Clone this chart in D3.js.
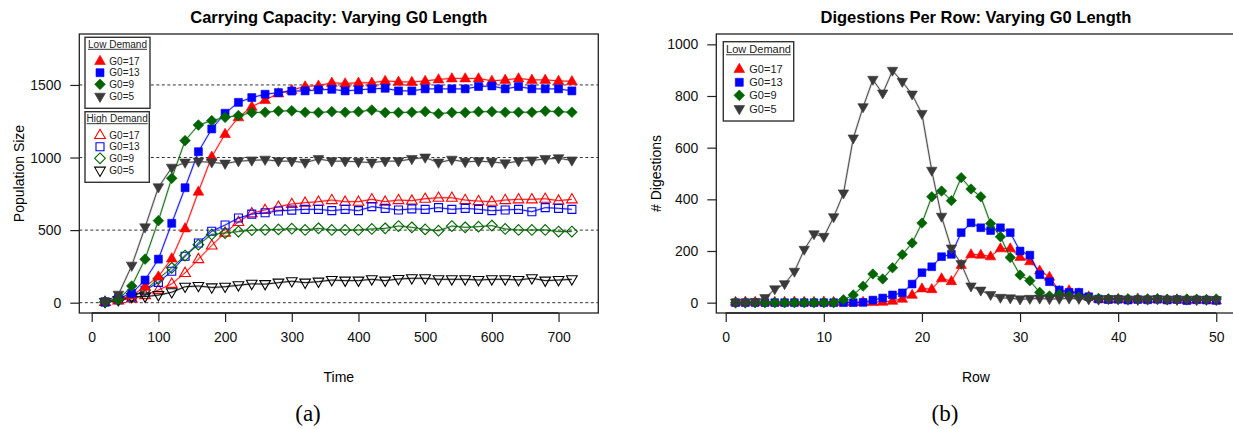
<!DOCTYPE html>
<html>
<head>
<meta charset="utf-8">
<script src="https://cdnjs.cloudflare.com/ajax/libs/d3/7.8.5/d3.min.js"></script>
<style>
  body { margin: 0; background: #fff; }
  svg { display: block; font-family: "Liberation Sans", Arial, sans-serif; }
</style>
</head>
<body>
<svg width="1233" height="429"></svg>
<script>
const width = 1233, height = 429;

// ---- data: carrying capacity (panel a) ----
const timeVals = [20, 40, 60, 80, 100, 120, 140, 160, 180, 200, 220, 240, 260, 280, 300,
    320, 340, 360, 380, 400, 420, 440, 460, 480, 500, 520, 540, 560, 580, 600,
    620, 640, 660, 680, 700, 720];

const lowG17 = [5, 20, 50, 110, 180, 305, 512, 765, 1005, 1162, 1277, 1350, 1396, 1442, 1465,
    1490, 1495, 1515, 1510, 1515, 1515, 1528, 1522, 1520, 1528, 1538, 1545, 1545, 1545, 1528,
    1535, 1545, 1535, 1535, 1528, 1525];
const lowG13 = [5, 30, 64, 156, 300, 547, 792, 1040, 1197, 1305, 1380, 1413, 1436, 1447, 1458,
    1459, 1466, 1470, 1459, 1466, 1473, 1477, 1459, 1459, 1473, 1473, 1473, 1473, 1489, 1493,
    1473, 1489, 1473, 1473, 1473, 1459];
const lowG9 = [5, 20, 115, 300, 565, 857, 1116, 1224, 1254, 1277, 1289, 1310, 1312, 1320, 1322,
    1312, 1310, 1316, 1312, 1316, 1327, 1310, 1310, 1312, 1316, 1302, 1310, 1310, 1316, 1316,
    1312, 1312, 1312, 1320, 1316, 1312];
const lowG5 = [5, 55, 255, 519, 795, 930, 965, 972, 967, 958, 975, 980, 985, 975, 975,
    965, 990, 975, 975, 970, 965, 975, 975, 990, 1000, 965, 985, 970, 975, 970,
    960, 975, 980, 990, 995, 980];

const highG17 = [5, 15, 30, 52, 87, 130, 205, 300, 394, 483, 556, 616, 639, 661, 680,
    689, 696, 707, 696, 696, 712, 696, 707, 703, 716, 723, 723, 707, 700, 696,
    707, 712, 712, 716, 703, 712];
const highG13 = [5, 20, 40, 85, 140, 217, 320, 411, 492, 535, 583, 610, 620, 632, 638,
    643, 643, 634, 643, 634, 662, 650, 639, 646, 643, 655, 643, 650, 643, 634,
    639, 643, 627, 655, 650, 643];
const highG9 = [5, 18, 40, 85, 165, 240, 325, 400, 470, 480, 490, 500, 502, 505, 510,
    501, 512, 501, 501, 501, 508, 512, 528, 519, 505, 496, 528, 519, 524, 531,
    508, 501, 501, 501, 490, 490];
const highG5 = [5, 18, 40, 42, 52, 72, 110, 115, 105, 110, 120, 130, 128, 138, 148,
    138, 145, 156, 152, 152, 161, 152, 163, 168, 168, 161, 161, 161, 156, 161,
    161, 156, 168, 152, 156, 161];

// ---- data: digestions per row (panel b) ----
const rowVals = [1, 2, 3, 4, 5, 6, 7, 8, 9, 10, 11, 12, 13, 14, 15, 16, 17, 18, 19, 20,
    21, 22, 23, 24, 25, 26, 27, 28, 29, 30, 31, 32, 33, 34, 35, 36, 37, 38, 39, 40,
    41, 42, 43, 44, 45, 46, 47, 48, 49, 50];

const digG17 = [3, 4, 3, 4, 3, 3, 4, 3, 3, 4, 3, 3, 2, 3, 2, 3, 7, 15, 30, 55,
    52, 94, 83, 146, 187, 185, 179, 210, 210, 177, 160, 124, 100, 45, 48, 36, 24, 15, 12, 14,
    12, 16, 13, 14, 12, 13, 10, 12, 11, 8];
const digG13 = [0, 0, 0, 0, 0, 0, 0, 0, 0, 0, 0, 0, 0, 1, 10, 18, 30, 38, 72, 116,
    139, 178, 187, 271, 309, 290, 279, 290, 271, 200, 184, 108, 81, 49, 40, 40, 23, 14, 12, 13,
    10, 12, 11, 13, 10, 12, 8, 11, 10, 9];
const digG9 = [0, 0, 0, 0, 0, 0, 0, 0, 0, 0, 0, 11, 30, 64, 111, 92, 135, 186, 231, 308,
    410, 432, 395, 484, 440, 410, 306, 255, 175, 107, 85, 40, 26, 32, 26, 22, 18, 16, 15, 14,
    15, 13, 14, 15, 13, 12, 14, 13, 12, 14];
const digG5 = [0, 0, 3, 18, 52, 72, 120, 205, 265, 255, 331, 423, 636, 757, 863, 810, 898, 855, 806, 731,
    511, 333, 210, 150, 63, 47, 30, 19, 17, 13, 15, 16, 14, 15, 16, 15, 13, 12, 14, 13,
    12, 11, 12, 13, 12, 11, 12, 10, 11, 10];

// ticks
const capXTicks = [0, 100, 200, 300, 400, 500, 600, 700];
const capYTicks = [0, 500, 1000, 1500];
const digXTicks = [0, 10, 20, 30, 40, 50];
const digYTicks = [0, 200, 400, 600, 800, 1000];

const seriesNames = ["G0=17", "G0=13", "G0=9", "G0=5"];
const seriesColor = ["#ff0000", "#0000ff", "#006400", "#3a3a3a"];
const openColor = ["#ff0000", "#0000ff", "#006400", "#000000"];

// custom R-like symbols
const triUp = { draw(ctx, size) { const s = Math.sqrt(size); const h = s * 0.866;
    ctx.moveTo(0, -h * 0.62); ctx.lineTo(s / 2, h * 0.38); ctx.lineTo(-s / 2, h * 0.38); ctx.closePath(); } };
const triDown = { draw(ctx, size) { const s = Math.sqrt(size); const h = s * 0.866;
    ctx.moveTo(0, h * 0.62); ctx.lineTo(s / 2, -h * 0.38); ctx.lineTo(-s / 2, -h * 0.38); ctx.closePath(); } };
const square = { draw(ctx, size) { const s = Math.sqrt(size) / 2;
    ctx.rect(-s, -s, 2 * s, 2 * s); } };
const diamond = { draw(ctx, size) { const s = Math.sqrt(size) / 2;
    ctx.moveTo(0, -s); ctx.lineTo(s, 0); ctx.lineTo(0, s); ctx.lineTo(-s, 0); ctx.closePath(); } };
const shapes = [triUp, square, diamond, triDown];
const shapeSize = [115, 64, 115, 115];

const svg = d3.select("svg");

// panel frames
const capBox = {left: 79.3, right: 598.3, top: 34, bottom: 313};
const digBox = {left: 716.3, right: 1235.5, top: 34, bottom: 313};

const capX = d3.scaleLinear().domain([-18.6, 759.6]).range([capBox.left, capBox.right]);
const capY = d3.scaleLinear().domain([-71, 1851]).range([capBox.bottom, capBox.top]);
const digX = d3.scaleLinear().domain([-0.96, 51.96]).range([digBox.left, digBox.right]);
const digY = d3.scaleLinear().domain([-40, 1040]).range([digBox.bottom, digBox.top]);

function drawAxes(g, box, x, y, xticks, yticks, title, xlab, ylab, ylabX, tag, tagX) {
    // frame
    g.append("rect")
        .attr("x", box.left).attr("y", box.top)
        .attr("width", box.right - box.left).attr("height", box.bottom - box.top)
        .attr("fill", "none").attr("stroke", "#222").attr("stroke-width", 1.3);

    const xa = g.append("g")
        .attr("transform", `translate(0, ${box.bottom})`)
        .call(d3.axisBottom(x).tickValues(xticks).tickSize(9).tickPadding(10).tickFormat(d3.format("d")));
    const ya = g.append("g")
        .attr("transform", `translate(${box.left}, 0)`)
        .call(d3.axisLeft(y).tickValues(yticks).tickSize(9).tickPadding(9).tickFormat(d3.format("d")));
    [xa, ya].forEach(a => {
        a.select(".domain").attr("stroke", "#222").attr("stroke-width", 1.3);
        a.selectAll(".tick line").attr("stroke", "#222").attr("stroke-width", 1.2);
        a.selectAll("text").style("font-size", "14px").attr("fill", "#111")
            .style("font-family", "Liberation Sans, Arial, sans-serif");
    });
    // x axis line only spans the ticks
    xa.select(".domain").attr("d", `M${x(xticks[0])},0H${x(xticks[xticks.length - 1])}`);
    ya.select(".domain").remove();

    g.append("text")
        .attr("x", (box.left + box.right) / 2).attr("y", 23)
        .attr("text-anchor", "middle")
        .style("font-size", "16.5px").style("font-weight", "bold")
        .text(title);
    g.append("text")
        .attr("x", (box.left + box.right) / 2).attr("y", 381.5)
        .attr("text-anchor", "middle")
        .style("font-size", "14px")
        .text(xlab);
    g.append("text")
        .attr("transform", `translate(${ylabX}, ${(box.top + box.bottom) / 2}) rotate(-90)`)
        .attr("text-anchor", "middle")
        .style("font-size", "14px")
        .text(ylab);
    g.append("text")
        .attr("x", tagX).attr("y", 421)
        .attr("text-anchor", "middle")
        .style("font-family", "Liberation Serif, Times New Roman, serif")
        .style("font-size", "23px")
        .text(tag);
}

function drawSeries(g, xs, ys, x, y, i, filled, sizeScale) {
    const pts = xs.map((d, j) => [x(d), y(ys[j])]);
    const col = filled ? seriesColor[i] : openColor[i];
    const line = d3.line();
    // faint doubled line, like the replicate run in the original
    g.append("path").attr("d", line(pts))
        .attr("fill", "none").attr("stroke", col)
        .attr("stroke-opacity", 0.2).attr("stroke-width", 2.4);
    g.append("path").attr("d", line(pts))
        .attr("fill", "none").attr("stroke", col).attr("stroke-width", 0.9);
    g.append("g")
        .selectAll("path")
        .data(pts)
        .join("path")
            .attr("transform", d => `translate(${d[0]}, ${d[1]})`)
            .attr("d", d3.symbol().type(shapes[i]).size(shapeSize[i] * sizeScale))
            .attr("fill", filled ? col : "#fff")
            .attr("fill-opacity", filled ? 1 : 0)
            .attr("stroke", col)
            .attr("stroke-width", filled ? 0.6 : 1.1);
}

function drawLegend(g, x0, y0, w, h, title, entries, filled, fs) {
    g.append("rect")
        .attr("x", x0).attr("y", y0).attr("width", w).attr("height", h)
        .attr("fill", "#fff").attr("stroke", "#333").attr("stroke-width", 1.4);
    const t = g.append("text")
        .attr("x", x0 + w / 2).attr("y", y0 + fs * 1.05)
        .attr("text-anchor", "middle")
        .style("font-size", fs + "px")
        .attr("fill", "#222")
        .text(title);
    const bb = t.node().getBBox();
    g.append("line")
        .attr("x1", bb.x).attr("x2", bb.x + bb.width)
        .attr("y1", y0 + fs * 1.05 + 1.5).attr("y2", y0 + fs * 1.05 + 1.5)
        .attr("stroke", "#333").attr("stroke-width", 1);
    entries.forEach((e, i) => {
        const ey = y0 + e.dy;
        g.append("path")
            .attr("transform", `translate(${x0 + e.sx}, ${ey})`)
            .attr("d", d3.symbol().type(shapes[i]).size(shapeSize[i] * 1.0))
            .attr("fill", filled ? seriesColor[i] : "none")
            .attr("stroke", filled ? seriesColor[i] : openColor[i])
            .attr("stroke-width", filled ? 0.6 : 1.1);
        g.append("text")
            .attr("x", x0 + e.tx).attr("y", ey + fs * 0.36)
            .style("font-size", fs + "px")
            .attr("fill", "#222")
            .text(seriesNames[i]);
    });
}

// ---- panel (a) ----
const ga = svg.append("g");
drawAxes(ga, capBox, capX, capY, capXTicks, capYTicks,
    "Carrying Capacity: Varying G0 Length", "Time", "Population Size", 24, "(a)", 308);

ga.append("g")
    .selectAll("line")
    .data(capYTicks)
    .join("line")
        .attr("x1", capBox.left).attr("x2", capBox.right)
        .attr("y1", d => capY(d)).attr("y2", d => capY(d))
        .attr("stroke", "#333").attr("stroke-width", 1)
        .attr("stroke-dasharray", "3,2.5");

const highSets = [highG17, highG13, highG9, highG5];
const lowSets = [lowG17, lowG13, lowG9, lowG5];
highSets.forEach((s, i) => drawSeries(ga, timeVals, s, capX, capY, i, false, 1));
lowSets.forEach((s, i) => drawSeries(ga, timeVals, s, capX, capY, i, true, 1));

drawLegend(ga, 85, 37.3, 65, 71, "Low  Demand",
    [23.7, 35.4, 47, 59.4].map(dy => ({dy: dy, sx: 15, tx: 24.3})), true, 10);
drawLegend(ga, 85, 111.7, 64.3, 70.6, "High Demand",
    [23.3, 35, 46.6, 59].map(dy => ({dy: dy, sx: 15, tx: 24.3})), false, 10);

// ---- panel (b) ----
const gb = svg.append("g");
drawAxes(gb, digBox, digX, digY, digXTicks, digYTicks,
    "Digestions Per Row: Varying G0 Length", "Row", "# Digestions", 661, "(b)", 945);

const digSets = [digG17, digG13, digG9, digG5];
digSets.forEach((s, i) => drawSeries(gb, rowVals, s, digX, digY, i, true, 0.95));

drawLegend(gb, 723.3, 41.7, 70.4, 79.3, "Low Demand",
    [27.3, 40.6, 53.6, 67.3].map(dy => ({dy: dy, sx: 16, tx: 26})), true, 11);
</script>
</body>
</html>
